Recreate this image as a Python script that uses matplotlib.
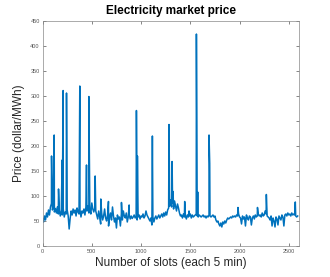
import matplotlib
matplotlib.use("Agg")
import matplotlib.pyplot as plt
import numpy as np

# baseline price, one value every 10 slots
base = (
    [55, 48, 60, 52, 66, 58, 72, 62, 78]
    + [85, 72, 80, 68, 75, 66, 78, 64, 72, 60, 70, 62, 74, 58, 68, 64, 72, 60]
    + [34, 55]
    + [70, 62, 74, 66, 72, 60, 76, 68, 64, 72, 58, 70, 66, 74, 62, 78, 70, 80, 66, 72, 64, 86, 74, 68, 76, 70]
    + [62, 54, 70, 58, 44, 66, 52, 60, 74, 56, 50, 62, 40, 58, 66, 52, 78, 60, 48, 56, 36, 62, 54, 58, 40,
       64, 52, 70, 60, 56, 66, 48, 58, 62, 54]
    + [60, 55, 58, 62, 56, 60, 52, 58, 62, 54, 60, 58, 64, 56, 60, 70, 62, 58, 54, 50, 56, 42, 58, 48, 56,
       60, 54, 58, 62, 56]
    + [60, 64, 58, 66, 60, 68, 62, 72, 76, 80]
    + [92, 78, 86, 74, 90, 80, 70, 84, 76, 66]
    + [60, 62, 56, 64, 58, 60, 54, 62, 58, 60, 64, 56, 62, 58, 60, 62]
    + [64, 60, 58, 62, 60, 58, 60, 62, 58, 60, 56, 60, 58, 62, 60, 58, 60, 62, 58, 60, 52, 48, 50, 44]
    + [40, 46, 38, 48, 44, 50, 46, 52, 56, 54]
    + [56, 58, 56, 60, 58, 60, 58, 62, 60, 64]
    + [58, 56, 44, 60, 54, 58, 40, 62, 56, 52, 60, 58, 42, 56, 60, 54, 62, 58, 60, 64]
    + [60, 62, 58, 66, 60, 62, 70, 64, 60, 58]
    + [56, 52, 60, 40, 56, 50, 38, 58, 54, 42, 60, 56, 52, 62, 58, 40]
    + [62, 64, 60, 66, 62, 64, 60, 66, 62, 64, 62, 60, 58, 60]
)
base_slots = np.arange(len(base)) * 10

# price spikes
spike_slots = [91, 118, 162, 199, 209, 243, 378, 446, 470, 534, 591, 669, 801, 879, 953, 963,
               1115, 1284, 1315, 1325, 1443, 1487, 1562, 1575, 1690, 1697, 1984, 2182, 2272, 2566]
spike_vals = [180, 222, 114, 172, 311, 306, 320, 162, 299, 140, 94, 89, 87, 82, 271, 180,
              220, 243, 169, 109, 89, 70, 424, 108, 222, 165, 77, 77, 103, 88]

x = np.concatenate([base_slots, spike_slots])
y = np.concatenate([base, spike_vals])
order = np.argsort(x, kind="stable")
x, y = x[order], y[order]

plt.rcParams['font.family'] = ['Liberation Sans', 'DejaVu Sans']

fig = plt.figure(figsize=(3.3, 2.77), dpi=100)
ax = fig.add_axes([0.129, 0.112, 0.776, 0.812])
ax.plot(x, y, color='#0072BD', linewidth=1.1)

ax.set_xlim(0, 2600)
ax.set_ylim(0, 450)
ax.set_xticks(np.arange(0, 2501, 500))
ax.set_yticks(np.arange(0, 451, 50))
ax.tick_params(direction='in', top=True, right=True, labelsize=4, colors='#555555',
               length=2.5, width=0.5, pad=2)
for s in ax.spines.values():
    s.set_linewidth(0.5)
    s.set_color('#888888')

ax.set_title('Electricity market price', fontsize=8.5, fontweight='bold', pad=5)
ax.set_xlabel('Number of slots (each 5 min)', fontsize=8.5, color='#262626', labelpad=2)
ax.set_ylabel('Price (dollar/MWh)', fontsize=8.5, color='#262626', labelpad=4)

fig.savefig('out.png', dpi=100)
